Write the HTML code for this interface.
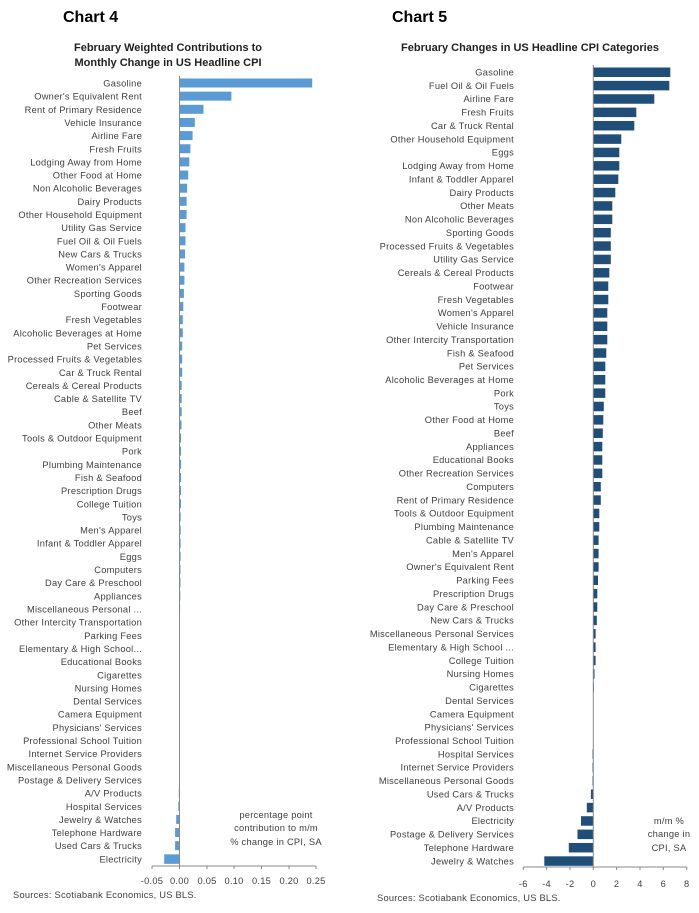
<!DOCTYPE html>
<html><head><meta charset="utf-8"><style>
html,body{margin:0;padding:0;background:#fff;}
svg{display:block;font-family:"Liberation Sans",sans-serif;}
.l{font-size:9.3px;fill:#404040;letter-spacing:0.25px;}
</style></head><body>
<svg width="699" height="913" viewBox="0 0 699 913" xmlns="http://www.w3.org/2000/svg">
<text x="63" y="22" font-size="16" font-weight="bold" fill="#000">Chart 4</text>
<text x="392" y="22" font-size="16" font-weight="bold" fill="#000">Chart 5</text>
<text x="168" y="51" font-size="11" font-weight="bold" fill="#222" text-anchor="middle">February Weighted Contributions to</text>
<text x="168" y="66" font-size="11" font-weight="bold" fill="#222" text-anchor="middle">Monthly Change in US Headline CPI</text>
<text x="530" y="51" font-size="11" font-weight="bold" fill="#222" text-anchor="middle">February Changes in US Headline CPI Categories</text>

<!-- Chart 4 labels -->
<text class="l" text-anchor="end" x="142" y="73.35">
<tspan x="142" dy="13.15">Gasoline</tspan><tspan x="142" dy="13.15">Owner's Equivalent Rent</tspan><tspan x="142" dy="13.15">Rent of Primary Residence</tspan><tspan x="142" dy="13.15">Vehicle Insurance</tspan><tspan x="142" dy="13.15">Airline Fare</tspan><tspan x="142" dy="13.15">Fresh Fruits</tspan><tspan x="142" dy="13.15">Lodging Away from Home</tspan><tspan x="142" dy="13.15">Other Food at Home</tspan><tspan x="142" dy="13.15">Non Alcoholic Beverages</tspan><tspan x="142" dy="13.15">Dairy Products</tspan><tspan x="142" dy="13.15">Other Household Equipment</tspan><tspan x="142" dy="13.15">Utility Gas Service</tspan><tspan x="142" dy="13.15">Fuel Oil &amp; Oil Fuels</tspan><tspan x="142" dy="13.15">New Cars &amp; Trucks</tspan><tspan x="142" dy="13.15">Women's Apparel</tspan><tspan x="142" dy="13.15">Other Recreation Services</tspan><tspan x="142" dy="13.15">Sporting Goods</tspan><tspan x="142" dy="13.15">Footwear</tspan><tspan x="142" dy="13.15">Fresh Vegetables</tspan><tspan x="142" dy="13.15">Alcoholic Beverages at Home</tspan><tspan x="142" dy="13.15">Pet Services</tspan><tspan x="142" dy="13.15">Processed Fruits &amp; Vegetables</tspan><tspan x="142" dy="13.15">Car &amp; Truck Rental</tspan><tspan x="142" dy="13.15">Cereals &amp; Cereal Products</tspan><tspan x="142" dy="13.15">Cable &amp; Satellite TV</tspan><tspan x="142" dy="13.15">Beef</tspan><tspan x="142" dy="13.15">Other Meats</tspan><tspan x="142" dy="13.15">Tools &amp; Outdoor Equipment</tspan><tspan x="142" dy="13.15">Pork</tspan><tspan x="142" dy="13.15">Plumbing Maintenance</tspan><tspan x="142" dy="13.15">Fish &amp; Seafood</tspan><tspan x="142" dy="13.15">Prescription Drugs</tspan><tspan x="142" dy="13.15">College Tuition</tspan><tspan x="142" dy="13.15">Toys</tspan><tspan x="142" dy="13.15">Men's Apparel</tspan><tspan x="142" dy="13.15">Infant &amp; Toddler Apparel</tspan><tspan x="142" dy="13.15">Eggs</tspan><tspan x="142" dy="13.15">Computers</tspan><tspan x="142" dy="13.15">Day Care &amp; Preschool</tspan><tspan x="142" dy="13.15">Appliances</tspan><tspan x="142" dy="13.15">Miscellaneous Personal ...</tspan><tspan x="142" dy="13.15">Other Intercity Transportation</tspan><tspan x="142" dy="13.15">Parking Fees</tspan><tspan x="142" dy="13.15">Elementary &amp; High School...</tspan><tspan x="142" dy="13.15">Educational Books</tspan><tspan x="142" dy="13.15">Cigarettes</tspan><tspan x="142" dy="13.15">Nursing Homes</tspan><tspan x="142" dy="13.15">Dental Services</tspan><tspan x="142" dy="13.15">Camera Equipment</tspan><tspan x="142" dy="13.15">Physicians' Services</tspan><tspan x="142" dy="13.15">Professional School Tuition</tspan><tspan x="142" dy="13.15">Internet Service Providers</tspan><tspan x="142" dy="13.15">Miscellaneous Personal Goods</tspan><tspan x="142" dy="13.15">Postage &amp; Delivery Services</tspan><tspan x="142" dy="13.15">A/V Products</tspan><tspan x="142" dy="13.15">Hospital Services</tspan><tspan x="142" dy="13.15">Jewelry &amp; Watches</tspan><tspan x="142" dy="13.15">Telephone Hardware</tspan><tspan x="142" dy="13.15">Used Cars &amp; Trucks</tspan><tspan x="142" dy="13.15">Electricity</tspan>
</text>
<g fill="#5b9bd5">
<rect x="179.5" y="78.5" width="132.7" height="9"/>
<rect x="179.5" y="91.65" width="51.9" height="9"/>
<rect x="179.5" y="104.8" width="24" height="9"/>
<rect x="179.5" y="117.95" width="15.3" height="9"/>
<rect x="179.5" y="131.1" width="13.1" height="9"/>
<rect x="179.5" y="144.25" width="10.9" height="9"/>
<rect x="179.5" y="157.4" width="9.8" height="9"/>
<rect x="179.5" y="170.55" width="8.7" height="9"/>
<rect x="179.5" y="183.7" width="7.6" height="9"/>
<rect x="179.5" y="196.85" width="7.1" height="9"/>
<rect x="179.5" y="210" width="7.1" height="9"/>
<rect x="179.5" y="223.15" width="6" height="9"/>
<rect x="179.5" y="236.3" width="6" height="9"/>
<rect x="179.5" y="249.45" width="5.5" height="9"/>
<rect x="179.5" y="262.6" width="4.9" height="9"/>
<rect x="179.5" y="275.75" width="4.9" height="9"/>
<rect x="179.5" y="288.9" width="4.4" height="9"/>
<rect x="179.5" y="302.05" width="3.8" height="9"/>
<rect x="179.5" y="315.2" width="3.3" height="9"/>
<rect x="179.5" y="328.35" width="3.3" height="9"/>
<rect x="179.5" y="341.5" width="2.7" height="9"/>
<rect x="179.5" y="354.65" width="2.7" height="9"/>
<rect x="179.5" y="367.8" width="2.7" height="9"/>
<rect x="179.5" y="380.95" width="2.2" height="9"/>
<rect x="179.5" y="394.1" width="2.2" height="9"/>
<rect x="179.5" y="407.25" width="2.2" height="9"/>
<rect x="179.5" y="420.4" width="2" height="9"/>
<rect x="179.5" y="433.55" width="1.6" height="9"/>
<rect x="179.5" y="446.7" width="1.6" height="9"/>
<rect x="179.5" y="459.85" width="1.6" height="9"/>
<rect x="179.5" y="473" width="1.6" height="9"/>
<rect x="179.5" y="486.15" width="1.6" height="9"/>
<rect x="179.5" y="499.3" width="1.5" height="9"/>
<rect x="179.5" y="512.45" width="1.2" height="9"/>
<rect x="179.5" y="525.6" width="1.2" height="9"/>
<rect x="179.5" y="538.75" width="1.1" height="9"/>
<rect x="179.5" y="551.9" width="1.1" height="9"/>
<rect x="179.5" y="565.05" width="1" height="9"/>
<rect x="179.5" y="578.2" width="1" height="9"/>
<rect x="179.5" y="591.35" width="0.8" height="9"/>
<rect x="179.5" y="604.5" width="0.6" height="9"/>
<rect x="178.8" y="788.6" width="0.7" height="9"/>
<rect x="178.3" y="801.75" width="1.2" height="9"/>
<rect x="176.2" y="814.9" width="3.3" height="9"/>
<rect x="175.1" y="828.05" width="4.4" height="9"/>
<rect x="175.1" y="841.2" width="4.4" height="9"/>
<rect x="164.2" y="854.35" width="15.3" height="9.5"/>
</g>
<g stroke="#888" stroke-width="1">
<line x1="179.5" y1="76" x2="179.5" y2="866"/>
<line x1="152" y1="866" x2="316" y2="866"/>
<line x1="152" y1="866" x2="152" y2="869"/><line x1="179.5" y1="866" x2="179.5" y2="869"/><line x1="207" y1="866" x2="207" y2="869"/><line x1="234" y1="866" x2="234" y2="869"/><line x1="261.5" y1="866" x2="261.5" y2="869"/><line x1="289" y1="866" x2="289" y2="869"/><line x1="316" y1="866" x2="316" y2="869"/>
</g>
<g class="l" text-anchor="middle">
<text x="152" y="884">-0.05</text><text x="179.5" y="884">0.00</text><text x="207" y="884">0.05</text><text x="234" y="884">0.10</text><text x="261.5" y="884">0.15</text><text x="289" y="884">0.20</text><text x="316" y="884">0.25</text>
</g>
<g class="l" text-anchor="middle">
<text x="276" y="818">percentage point</text><text x="276" y="831">contribution to m/m</text><text x="276" y="845">% change in CPI, SA</text>
</g>
<text class="l" x="13" y="898" fill="#666">Sources: Scotiabank Economics, US BLS.</text>

<!-- Chart 5 labels -->
<text class="l" text-anchor="end" x="514" y="62.13">
<tspan x="514" dy="13.37">Gasoline</tspan><tspan x="514" dy="13.37">Fuel Oil &amp; Oil Fuels</tspan><tspan x="514" dy="13.37">Airline Fare</tspan><tspan x="514" dy="13.37">Fresh Fruits</tspan><tspan x="514" dy="13.37">Car &amp; Truck Rental</tspan><tspan x="514" dy="13.37">Other Household Equipment</tspan><tspan x="514" dy="13.37">Eggs</tspan><tspan x="514" dy="13.37">Lodging Away from Home</tspan><tspan x="514" dy="13.37">Infant &amp; Toddler Apparel</tspan><tspan x="514" dy="13.37">Dairy Products</tspan><tspan x="514" dy="13.37">Other Meats</tspan><tspan x="514" dy="13.37">Non Alcoholic Beverages</tspan><tspan x="514" dy="13.37">Sporting Goods</tspan><tspan x="514" dy="13.37">Processed Fruits &amp; Vegetables</tspan><tspan x="514" dy="13.37">Utility Gas Service</tspan><tspan x="514" dy="13.37">Cereals &amp; Cereal Products</tspan><tspan x="514" dy="13.37">Footwear</tspan><tspan x="514" dy="13.37">Fresh Vegetables</tspan><tspan x="514" dy="13.37">Women's Apparel</tspan><tspan x="514" dy="13.37">Vehicle Insurance</tspan><tspan x="514" dy="13.37">Other Intercity Transportation</tspan><tspan x="514" dy="13.37">Fish &amp; Seafood</tspan><tspan x="514" dy="13.37">Pet Services</tspan><tspan x="514" dy="13.37">Alcoholic Beverages at Home</tspan><tspan x="514" dy="13.37">Pork</tspan><tspan x="514" dy="13.37">Toys</tspan><tspan x="514" dy="13.37">Other Food at Home</tspan><tspan x="514" dy="13.37">Beef</tspan><tspan x="514" dy="13.37">Appliances</tspan><tspan x="514" dy="13.37">Educational Books</tspan><tspan x="514" dy="13.37">Other Recreation Services</tspan><tspan x="514" dy="13.37">Computers</tspan><tspan x="514" dy="13.37">Rent of Primary Residence</tspan><tspan x="514" dy="13.37">Tools &amp; Outdoor Equipment</tspan><tspan x="514" dy="13.37">Plumbing Maintenance</tspan><tspan x="514" dy="13.37">Cable &amp; Satellite TV</tspan><tspan x="514" dy="13.37">Men's Apparel</tspan><tspan x="514" dy="13.37">Owner's Equivalent Rent</tspan><tspan x="514" dy="13.37">Parking Fees</tspan><tspan x="514" dy="13.37">Prescription Drugs</tspan><tspan x="514" dy="13.37">Day Care &amp; Preschool</tspan><tspan x="514" dy="13.37">New Cars &amp; Trucks</tspan><tspan x="514" dy="13.37">Miscellaneous Personal Services</tspan><tspan x="514" dy="13.37">Elementary &amp; High School ...</tspan><tspan x="514" dy="13.37">College Tuition</tspan><tspan x="514" dy="13.37">Nursing Homes</tspan><tspan x="514" dy="13.37">Cigarettes</tspan><tspan x="514" dy="13.37">Dental Services</tspan><tspan x="514" dy="13.37">Camera Equipment</tspan><tspan x="514" dy="13.37">Physicians' Services</tspan><tspan x="514" dy="13.37">Professional School Tuition</tspan><tspan x="514" dy="13.37">Hospital Services</tspan><tspan x="514" dy="13.37">Internet Service Providers</tspan><tspan x="514" dy="13.37">Miscellaneous Personal Goods</tspan><tspan x="514" dy="13.37">Used Cars &amp; Trucks</tspan><tspan x="514" dy="13.37">A/V Products</tspan><tspan x="514" dy="13.37">Electricity</tspan><tspan x="514" dy="13.37">Postage &amp; Delivery Services</tspan><tspan x="514" dy="13.37">Telephone Hardware</tspan><tspan x="514" dy="13.37">Jewelry &amp; Watches</tspan>
</text>
<g fill="#1f4e79">
<rect x="593.3" y="67.5" width="77" height="9.5"/>
<rect x="593.3" y="80.87" width="76" height="9.5"/>
<rect x="593.3" y="94.24" width="61" height="9.5"/>
<rect x="593.3" y="107.61" width="43" height="9.5"/>
<rect x="593.3" y="120.98" width="41" height="9.5"/>
<rect x="593.3" y="134.35" width="28" height="9.5"/>
<rect x="593.3" y="147.72" width="26" height="9.5"/>
<rect x="593.3" y="161.09" width="26" height="9.5"/>
<rect x="593.3" y="174.46" width="25" height="9.5"/>
<rect x="593.3" y="187.83" width="22" height="9.5"/>
<rect x="593.3" y="201.2" width="19" height="9.5"/>
<rect x="593.3" y="214.57" width="19" height="9.5"/>
<rect x="593.3" y="227.94" width="17.5" height="9.5"/>
<rect x="593.3" y="241.31" width="17.5" height="9.5"/>
<rect x="593.3" y="254.68" width="17.5" height="9.5"/>
<rect x="593.3" y="268.05" width="16" height="9.5"/>
<rect x="593.3" y="281.42" width="15" height="9.5"/>
<rect x="593.3" y="294.79" width="15" height="9.5"/>
<rect x="593.3" y="308.16" width="14" height="9.5"/>
<rect x="593.3" y="321.53" width="14" height="9.5"/>
<rect x="593.3" y="334.9" width="14" height="9.5"/>
<rect x="593.3" y="348.27" width="13" height="9.5"/>
<rect x="593.3" y="361.64" width="12" height="9.5"/>
<rect x="593.3" y="375.01" width="12" height="9.5"/>
<rect x="593.3" y="388.38" width="12" height="9.5"/>
<rect x="593.3" y="401.75" width="10.5" height="9.5"/>
<rect x="593.3" y="415.12" width="10" height="9.5"/>
<rect x="593.3" y="428.49" width="9.5" height="9.5"/>
<rect x="593.3" y="441.86" width="9" height="9.5"/>
<rect x="593.3" y="455.23" width="9" height="9.5"/>
<rect x="593.3" y="468.6" width="9" height="9.5"/>
<rect x="593.3" y="481.97" width="7.5" height="9.5"/>
<rect x="593.3" y="495.34" width="7.5" height="9.5"/>
<rect x="593.3" y="508.71" width="6" height="9.5"/>
<rect x="593.3" y="522.08" width="6" height="9.5"/>
<rect x="593.3" y="535.45" width="5.3" height="9.5"/>
<rect x="593.3" y="548.82" width="5.3" height="9.5"/>
<rect x="593.3" y="562.19" width="5.3" height="9.5"/>
<rect x="593.3" y="575.56" width="4.7" height="9.5"/>
<rect x="593.3" y="588.93" width="4" height="9.5"/>
<rect x="593.3" y="602.3" width="4" height="9.5"/>
<rect x="593.3" y="615.67" width="3.5" height="9.5"/>
<rect x="593.3" y="629.04" width="2.3" height="9.5"/>
<rect x="593.3" y="642.41" width="2.3" height="9.5"/>
<rect x="593.3" y="655.78" width="2.3" height="9.5"/>
<rect x="593.3" y="669.15" width="1.2" height="9.5"/>
<rect x="593.3" y="682.52" width="0.6" height="9.5"/>
<rect x="592.5" y="749.37" width="0.8" height="9.5"/>
<rect x="592.5" y="762.74" width="0.8" height="9.5"/>
<rect x="592.5" y="776.11" width="0.8" height="9.5"/>
<rect x="590.9" y="789.48" width="2.4" height="9.5"/>
<rect x="586.8" y="802.85" width="6.5" height="9.5"/>
<rect x="581" y="816.22" width="12.3" height="9.5"/>
<rect x="577.5" y="829.59" width="15.8" height="9.5"/>
<rect x="568.8" y="842.96" width="24.5" height="9.5"/>
<rect x="544.3" y="856.33" width="49" height="9.5"/>
</g>
<g stroke="#888" stroke-width="1">
<line x1="593.3" y1="65" x2="593.3" y2="867"/>
<line x1="523.3" y1="867" x2="686.7" y2="867"/>
<line x1="523.3" y1="867" x2="523.3" y2="870"/><line x1="546.6" y1="867" x2="546.6" y2="870"/><line x1="570" y1="867" x2="570" y2="870"/><line x1="593.3" y1="867" x2="593.3" y2="870"/><line x1="616.6" y1="867" x2="616.6" y2="870"/><line x1="640" y1="867" x2="640" y2="870"/><line x1="663.3" y1="867" x2="663.3" y2="870"/><line x1="686.7" y1="867" x2="686.7" y2="870"/>
</g>
<g class="l" text-anchor="middle">
<text x="523.3" y="887">-6</text><text x="546.6" y="887">-4</text><text x="570" y="887">-2</text><text x="593.3" y="887">0</text><text x="616.6" y="887">2</text><text x="640" y="887">4</text><text x="663.3" y="887">6</text><text x="686.7" y="887">8</text>
</g>
<g class="l" text-anchor="middle">
<text x="669" y="824">m/m %</text><text x="669" y="837">change in</text><text x="669" y="851">CPI, SA</text>
</g>
<text class="l" x="377" y="901" fill="#666">Sources: Scotiabank Economics, US BLS.</text>
</svg>
</body></html>
